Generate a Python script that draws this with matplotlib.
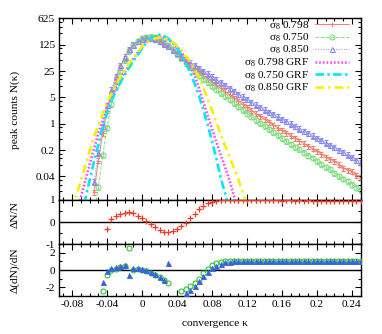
import numpy as np
import matplotlib
matplotlib.use("Agg")
import matplotlib.pyplot as plt
from matplotlib.lines import Line2D
from matplotlib.ticker import FixedLocator, NullFormatter, MultipleLocator

plt.rcParams['font.family'] = ['Liberation Serif', 'DejaVu Serif']
plt.rcParams['mathtext.fontset'] = 'custom'
plt.rcParams['mathtext.rm'] = 'Liberation Serif'
plt.rcParams['mathtext.it'] = 'Liberation Serif:italic'
FS = 8.2

# ---------------- data ----------------
kappa_sim = np.round(np.arange(-0.055, 0.2501, 0.005), 3)
N_sim_0798 = [0.0152, 0.105, 0.569, 2.24, 6.37, 15.4, 31.8, 55.9, 90.6, 125, 154, 178, 193, 196, 187,
              167, 142, 117, 93.6, 73.5, 57.7, 45.3, 36.2, 28.9, 23.1, 18.7, 15.4, 12.7, 10.5, 8.64,
              7.13, 5.87, 4.84, 3.99, 3.29, 2.71, 2.24, 1.87, 1.57, 1.31, 1.10, 0.923, 0.786, 0.669,
              0.569, 0.485, 0.413, 0.351, 0.299, 0.255, 0.217, 0.190, 0.157, 0.128, 0.114, 0.101,
              0.0825, 0.066, 0.0598, 0.054, 0.0434, 0.0369]
N_sim_0750 = [0.0036, 0.021, 0.145, 0.786, 3.34, 10.3, 25.0, 49.2, 83.6, 121, 154, 184, 202, 206, 196,
              172, 147, 119, 93.6, 71.2, 54.1, 40.5, 31.3, 24.2, 19.0, 15.2, 12.5, 9.99, 8.1, 6.57,
              5.33, 4.33, 3.51, 2.85, 2.31, 1.87, 1.54, 1.27, 1.05, 0.865, 0.713, 0.588, 0.493, 0.413,
              0.346, 0.290, 0.243, 0.210, 0.170, 0.143, 0.125, 0.100, 0.0839, 0.0702, 0.0620, 0.0493,
              0.0413, 0.0346, 0.0300, 0.0243, 0.0203, 0.0170]
N_sim_0850 = [0.029, 0.170, 0.851, 3.09, 8.1, 18.1, 35.6, 60.6, 93.6, 125, 152, 172, 184, 184, 172,
              154, 133, 112, 92.1, 74.7, 60.6, 50.0, 41.9, 35.6, 30.3, 25.4, 21.3, 17.8, 14.9, 12.5,
              10.5, 8.79, 7.36, 6.17, 5.25, 4.47, 3.80, 3.24, 2.76, 2.38, 2.06, 1.79, 1.54, 1.34,
              1.16, 1.0, 0.865, 0.748, 0.647, 0.560, 0.485, 0.420, 0.363, 0.314, 0.271, 0.235,
              0.203, 0.176, 0.152, 0.130, 0.110, 0.094]
rel_err = 0.15

kappa_grf = np.round(np.arange(-0.08, 0.1201, 0.005), 3)
N_grf_0798 = [0.0016, 0.0046, 0.0112, 0.0304, 0.0825, 0.217, 0.560, 1.25, 2.76, 5.0, 8.64, 14.9, 23.1,
              34.5, 52.4, 77.1, 106, 142, 178, 203, 206, 196, 170, 140, 112, 78.4, 54.1, 32.9, 19.3,
              8.79, 3.80, 1.67, 0.737, 0.324, 0.150, 0.0702, 0.0314, 0.0124, 0.0049, 0.0019, 0.0007]
N_grf_0750 = [0.00032, 0.00099, 0.0030, 0.0099, 0.0314, 0.100, 0.285, 0.838, 1.97, 4.19, 7.13, 12.1,
              19.3, 29.9, 46.1, 67.8, 98.2, 142, 178, 213, 230, 213, 181, 142, 101, 66.8, 40.5, 22.7,
              11.7, 5.51, 2.38, 0.953, 0.346, 0.118, 0.0363, 0.0141, 0.0046, 0.0012, 0.00032,
              0.0001, 0.00002]
N_grf_0850 = [0.0052, 0.0128, 0.0309, 0.0762, 0.188, 0.455, 0.923, 1.84, 3.68, 6.27, 10.7, 17.3, 25.8,
              38.6, 55.9, 79.7, 114, 142, 164, 184, 193, 190, 172, 147, 119, 92.1, 62.6, 44.6, 28.0,
              17.3, 9.22, 4.47, 2.24, 1.08, 0.517, 0.255, 0.132, 0.068, 0.034, 0.0152, 0.0068]

kappa_ratio = np.round(np.arange(-0.04, 0.2501, 0.005), 3)
dN_over_N_0798 = [-0.32, 0.12, 0.28, 0.36, 0.42, 0.44, 0.40, 0.29, 0.16, 0.04, -0.10, -0.24, -0.36,
                  -0.44, -0.47, -0.43, -0.33, -0.20, -0.06, 0.17, 0.37, 0.58, 0.74, 0.85, 0.92, 0.96,
                  0.98, 0.98, 0.99, 0.98, 0.99, 0.99, 0.98, 0.99, 0.98, 0.98, 0.99, 0.98, 0.98, 0.99,
                  0.97, 0.98, 0.98, 0.97, 0.98, 0.97, 0.98, 0.97, 0.96, 0.97, 0.96, 0.97, 0.95, 0.96,
                  0.95, 0.96, 0.95, 0.95, 0.96]

kappa_deriv = np.round(np.arange(-0.045, 0.2501, 0.005), 3)
d_dN_0750 = [-2.45, -0.55, 0.05, 0.15, 0.30, 0.45, 2.5, 0.05, 0.10, 0.05, -0.10, -0.30, -0.55, -0.85,
             -1.2, -1.55, np.nan, np.nan, -2.45, -2.2, -1.85, -1.5, -1.0, -0.4, 0.15, 0.52, 0.78,
             0.92, 1.0, 1.03, 1.04, 1.04, 1.04, 1.04, 1.04, 1.04, 1.04, 1.04, 1.04, 1.04, 1.04,
             1.04, 1.04, 1.04, 1.04, 1.04, 1.04, 1.04, 1.04, 1.04, 1.04, 1.04, 1.04, 1.04, 1.04,
             1.04, 1.04, 1.04, 1.04, 1.04]
d_dN_0850 = [-1.35, -0.10, 0.20, 0.35, 0.45, 0.60, -0.55, 0.20, 0.20, 0.10, -0.05, -0.25, -0.50, -0.80,
             -1.15, 0.85, np.nan, np.nan, np.nan, -2.65, -2.35, -1.85, -1.25, -0.70, -0.20, 0.20,
             0.50, 0.72, 0.88, 0.97, 1.02, 1.03, 1.04, 1.04, 1.04, 1.04, 1.04, 1.04, 1.04, 1.04,
             1.04, 1.04, 1.04, 1.04, 1.04, 1.04, 1.04, 1.04, 1.04, 1.04, 1.04, 1.04, 1.04, 1.04,
             1.04, 1.04, 1.04, 1.04, 1.04, 1.04]

log_ticks = [0.04, 0.2, 1, 5, 25, 125, 625]
log_tick_labels = ['0.04', '0.2', '1', '5', '25', '125', '625']
x_ticks = [-0.08, -0.04, 0, 0.04, 0.08, 0.12, 0.16, 0.2, 0.24]
x_tick_labels = ['-0.08', '-0.04', '0', '0.04', '0.08', '0.12', '0.16', '0.2', '0.24']

# ---------------- styles ----------------
c_red, c_green, c_blue = '#f4806c', '#80e080', '#8a8af5'
c_mag, c_cyan, c_yel = '#ff44ff', '#00e8f0', '#f2f200'
GRF_LW = 1.9
ls_mag = (0, (0.6, 0.8))
ls_cyan = (0, (3.2, 1.3, 0.9, 1.3))
ls_yel = (0, (3.2, 1.6, 0.9, 1.6))
XLIM = (-0.095, 0.25)

fig = plt.figure(figsize=(3.82, 3.34), dpi=100)
W = 360.7 - 59
def pos(top, bottom):
    return [59 / 382, 1 - bottom / 334, W / 382, (bottom - top) / 334]
ax1 = fig.add_axes(pos(17.7, 200))
ax2 = fig.add_axes(pos(200, 244))
ax3 = fig.add_axes(pos(244, 296))

def style_axis(ax):
    ax.set_xlim(*XLIM)
    ax.xaxis.set_major_locator(FixedLocator(x_ticks))
    ax.xaxis.set_minor_locator(MultipleLocator(0.01))
    ax.tick_params(which='both', direction='in', top=True, right=True, labelsize=FS, width=0.8,
                   colors='black', pad=3)
    ax.tick_params(which='major', length=4.5)
    ax.tick_params(which='minor', length=2.3)
    for s in ax.spines.values():
        s.set_linewidth(1.0)

# ---- top panel ----
ax1.set_yscale('log', base=5)
for k, N, col, mk, ls in [(kappa_sim, N_sim_0798, c_red, '+', '-'),
                          (kappa_sim, N_sim_0750, c_green, 'o', '--'),
                          (kappa_sim, N_sim_0850, c_blue, '^', ':')]:
    N = np.asarray(N)
    ax1.errorbar(k, N, yerr=rel_err * N, color=col, marker=mk, ms=3.6, mfc='none', mew=0.8,
                 ls=ls, lw=0.7, elinewidth=0.6, capsize=1.2, capthick=0.6, zorder=2)
ax1.plot(kappa_grf, N_grf_0798, color=c_mag, ls=ls_mag, lw=GRF_LW, zorder=3)
ax1.plot(kappa_grf, N_grf_0750, color=c_cyan, ls=ls_cyan, lw=GRF_LW, zorder=3)
ax1.plot(kappa_grf, N_grf_0850, color=c_yel, ls=ls_yel, lw=GRF_LW, zorder=3)
ax1.set_ylim(0.0095, 650)
ax1.yaxis.set_major_locator(FixedLocator(log_ticks))
ax1.set_yticklabels(log_tick_labels)
ax1.yaxis.set_minor_locator(FixedLocator([m * t for t in [0.008, 0.04, 0.2, 1, 5, 25, 125] for m in (2, 3, 4)]))
ax1.yaxis.set_minor_formatter(NullFormatter())
style_axis(ax1)
ax1.set_xticklabels([])

handles = [Line2D([], [], color=c_red, marker='+', ls='-', lw=0.7, ms=3.6, mew=0.8),
           Line2D([], [], color=c_green, marker='o', mfc='none', ls='--', lw=0.7, ms=3.6, mew=0.8),
           Line2D([], [], color=c_blue, marker='^', mfc='none', ls=':', lw=0.7, ms=3.6, mew=0.8),
           Line2D([], [], color=c_mag, ls=ls_mag, lw=GRF_LW),
           Line2D([], [], color=c_cyan, ls=ls_cyan, lw=GRF_LW),
           Line2D([], [], color=c_yel, ls=ls_yel, lw=GRF_LW)]
labels = ['σ$_8$ 0.798', 'σ$_8$ 0.750', 'σ$_8$ 0.850',
          'σ$_8$ 0.798 GRF', 'σ$_8$ 0.750 GRF', 'σ$_8$ 0.850 GRF']
ax1.legend(handles, labels, loc='upper right', bbox_to_anchor=(349 / 382, 1 - 19 / 334),
           bbox_transform=fig.transFigure, frameon=False, markerfirst=False, fontsize=FS,
           borderpad=0, borderaxespad=0, labelspacing=0.0, handlelength=3.0, handletextpad=0.45)

# ---- middle panel ----
ax2.axhline(0, color='black', lw=1.0, zorder=1)
ax2.plot(kappa_ratio, dN_over_N_0798, ls='none', marker='+', ms=4, mew=0.9, color='#f03a2a', zorder=3)
ax2.set_ylim(-1, 1)
ax2.set_yticks([-1, 0, 1])
ax2.set_yticklabels(['-1', '0', '1'])
ax2.yaxis.set_minor_locator(MultipleLocator(0.5))
style_axis(ax2)
ax2.set_xticklabels([])

# ---- bottom panel ----
ax3.axhline(0, color='black', lw=1.0, zorder=1)
ax3.plot(kappa_deriv, d_dN_0750, ls='none', marker='o', ms=3.6, mfc='none', mew=0.8, color='#33c433', zorder=3)
ax3.plot(kappa_deriv, d_dN_0850, ls='none', marker='^', ms=3.6, mew=0.6, color='#3a62dd', zorder=3)
ax3.set_ylim(-3, 3)
ax3.set_yticks([-2, 0, 2])
ax3.set_yticklabels(['-2', '0', '2'])
ax3.yaxis.set_minor_locator(MultipleLocator(1))
style_axis(ax3)
ax3.set_xticklabels(x_tick_labels)

fig.text(15 / 382, 1 - 110 / 334, 'peak counts N(κ)', rotation=90, ha='center', va='center', fontsize=FS)
fig.text(15 / 382, 1 - 215 / 334, 'ΔN/N', rotation=90, ha='center', va='center', fontsize=FS)
fig.text(15 / 382, 1 - 270 / 334, 'Δ(dN)/dN', rotation=90, ha='center', va='center', fontsize=FS)
fig.text(215 / 382, 1 - 324 / 334, 'convergence κ', ha='center', va='center', fontsize=FS)

fig.savefig('out.png', dpi=100)
